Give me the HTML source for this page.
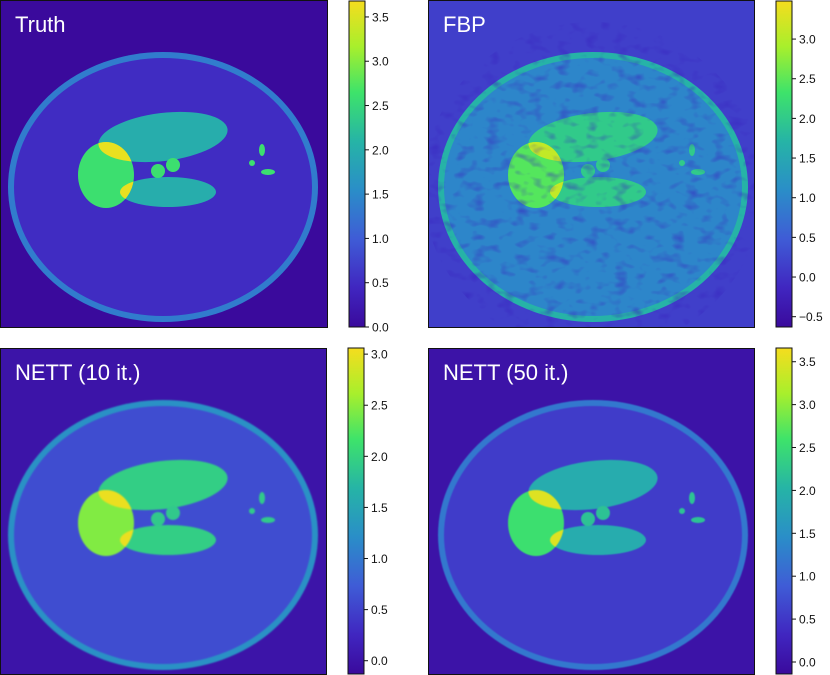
<!DOCTYPE html>
<html><head><meta charset="utf-8">
<style>
html,body{margin:0;padding:0;background:#fff;}
body{width:830px;height:675px;overflow:hidden;position:relative;font-family:"Liberation Sans",sans-serif;}
svg{position:absolute;left:0;top:0;}
</style></head>
<body>
<svg id="fig" width="830" height="675" viewBox="0 0 830 675">
<defs>
<linearGradient id="cmap" x1="0" y1="1" x2="0" y2="0"></linearGradient>
<filter id="noise" x="0" y="0" width="100%" height="100%" color-interpolation-filters="sRGB">
<feTurbulence type="fractalNoise" baseFrequency="0.07 0.11" numOctaves="2" seed="4" result="t"/>
<feColorMatrix in="t" type="matrix" values="0 0 0 0 0.22  0 0 0 0 0.14  0 0 0 0 0.75  0 0 0 1.4 -0.72" result="n"/>
<feComposite in="n" in2="SourceGraphic" operator="atop"/>
</filter>
<filter id="blur1" color-interpolation-filters="sRGB"><feGaussianBlur stdDeviation="0.9"/></filter>
<filter id="blur2" color-interpolation-filters="sRGB"><feGaussianBlur stdDeviation="0.6"/></filter>
<clipPath id="fbpdisk"><ellipse cx="593" cy="187" rx="170" ry="165"/></clipPath>
</defs>
</svg>
<script>
// colormap stops (position, color)
const cmapPos = [0, 0.12, 0.27, 0.42, 0.57, 0.72, 0.86, 1];
const cmapCol = ['#3a0a9c','#4026c0','#3f5cd6','#2a8ec8','#26b4a6','#3ee36a','#a8ef2c','#f5dd1e'];
// panels
const panelNames = ['Truth','FBP','NETT (10 it.)','NETT (50 it.)'];
const panelMin = [0, -0.63, -0.13, -0.14];
const panelMax = [3.68, 3.48, 3.06, 3.66];
const panelTicks = [
  [0,0.5,1,1.5,2,2.5,3,3.5],
  [-0.5,0,0.5,1,1.5,2,2.5,3],
  [0,0.5,1,1.5,2,2.5,3],
  [0,0.5,1,1.5,2,2.5,3,3.5]];
// region values per panel
const bgVal = [0, 0.15, 0, 0];
const ringVal = [1.35, 1.7, 1.25, 1.2];
const interiorVal = [0.5, 1.0, 0.6, 0.55];
const ellVal = [2.0, 2.0, 1.95, 1.9];
const leftVal = [2.6, 2.45, 2.45, 2.55];
const overlapVal = [3.6, 3.1, 3.0, 3.5];
const dotVal = [2.6, 2.0, 1.9, 2.2];

const NS='http://www.w3.org/2000/svg';
const svg=document.getElementById('fig');
function mk(tag,attrs,parent){const e=document.createElementNS(NS,tag);for(const k in attrs)e.setAttribute(k,attrs[k]);(parent||svg).appendChild(e);return e;}
function hex2(c){return [1,3,5].map(i=>parseInt(c.substr(i,2),16));}
function cmap(t){t=Math.max(0,Math.min(1,t));for(let i=1;i<cmapPos.length;i++){if(t<=cmapPos[i]){const f=(t-cmapPos[i-1])/(cmapPos[i]-cmapPos[i-1]);const a=hex2(cmapCol[i-1]),b=hex2(cmapCol[i]);return 'rgb('+a.map((v,j)=>Math.round(v+(b[j]-v)*f)).join(',')+')';}}return cmapCol[cmapCol.length-1];}
const grad=document.getElementById('cmap');
cmapPos.forEach((p,i)=>{const s=document.createElementNS(NS,'stop');s.setAttribute('offset',p);s.setAttribute('stop-color',cmapCol[i]);grad.appendChild(s);});

const boxes=[{x:0,y:0,w:328,h:328,cx:349,dx:0},{x:428,y:0,w:327,h:328,cx:776,dx:430},{x:0,y:348,w:327,h:327,cx:348,dx:0},{x:428,y:348,w:327,h:327,cx:776,dx:430}];
boxes.forEach((b,p)=>{
  const col=v=>cmap((v-panelMin[p])/(panelMax[p]-panelMin[p]));
  const g=mk('g',{});
  
  
  const cid='clip'+p;
  const cp=mk('clipPath',{id:cid},g);mk('rect',{x:b.x,y:b.y,width:b.w,height:b.h},cp);
  const img=mk('g',{'clip-path':'url(#'+cid+')'},g);
  mk('rect',{x:b.x,y:b.y,width:b.w,height:b.h,fill:col(bgVal[p])},img);
  let inner=mk('g',{},img);
  if(p===1){inner.setAttribute('clip-path','url(#fbpdisk)');inner=mk('g',{filter:'url(#noise)'},inner);}
  else if(p===2)inner.setAttribute('filter','url(#blur1)');
  else if(p===3)inner.setAttribute('filter','url(#blur2)');
  const ox=b.dx, oy=b.y;
  mk('rect',{x:b.x-5,y:b.y-5,width:b.w+10,height:b.h+10,fill:col(bgVal[p])},inner);
  const ring=mk('ellipse',{cx:163+ox,cy:187+oy,rx:155,ry:135,fill:col(ringVal[p])},inner);
  
  mk('ellipse',{cx:163+ox,cy:187+oy,rx:149,ry:129,fill:col(interiorVal[p])},inner);
  mk('ellipse',{cx:163+ox,cy:137+oy,rx:65,ry:24,transform:'rotate(-7 '+(163+ox)+' '+(137+oy)+')',fill:col(ellVal[p])},inner);
  mk('ellipse',{cx:168+ox,cy:192+oy,rx:48,ry:15,fill:col(ellVal[p])},inner);
  const lid='left'+p;
  const lc=mk('clipPath',{id:lid},g);mk('ellipse',{cx:106+ox,cy:175+oy,rx:28,ry:33},lc);
  mk('ellipse',{cx:106+ox,cy:175+oy,rx:28,ry:33,fill:col(leftVal[p])},inner);
  const ov=mk('g',{'clip-path':'url(#'+lid+')'},inner);
  mk('ellipse',{cx:163+ox,cy:137+oy,rx:65,ry:24,transform:'rotate(-7 '+(163+ox)+' '+(137+oy)+')',fill:col(overlapVal[p])},ov);
  mk('ellipse',{cx:168+ox,cy:192+oy,rx:48,ry:15,fill:col(overlapVal[p])},ov);
  mk('circle',{cx:158+ox,cy:171+oy,r:7,fill:col(dotVal[p])},inner);
  mk('circle',{cx:173+ox,cy:165+oy,r:7,fill:col(dotVal[p])},inner);
  mk('ellipse',{cx:262+ox,cy:150+oy,rx:3,ry:6,fill:col(dotVal[p])},inner);
  mk('circle',{cx:252+ox,cy:163+oy,r:3,fill:col(dotVal[p])},inner);
  mk('ellipse',{cx:268+ox,cy:172+oy,rx:7,ry:3,fill:col(dotVal[p])},inner);
  mk('rect',{x:b.x+0.5,y:b.y+0.5,width:b.w-1,height:b.h-1,fill:'none',stroke:'#111','stroke-width':1},g);
  const t=mk('text',{x:b.x+15,y:b.y+32,fill:'#fff','font-size':22},g);
  t.textContent=panelNames[p];
  
  
  // colorbar
  const cb=mk('g',{},svg);
  
  
  const top=b.y+(p<2?1:0), bot=b.y+b.h-1;
  mk('rect',{x:b.cx,y:top,width:16,height:bot-top,fill:'url(#cmap)',stroke:'#111','stroke-width':1},cb);
  const yOf=v=>bot-(v-panelMin[p])/(panelMax[p]-panelMin[p])*(bot-top);
  panelTicks[p].forEach(v=>{
    const y=yOf(v);
    mk('line',{x1:b.cx+16,x2:b.cx+20,y1:y,y2:y,stroke:'#111','stroke-width':1},cb);
    const tx=mk('text',{x:b.cx+23,y:y+4.5,'font-size':12,fill:'#111'},cb);
    tx.textContent=(v<0?'\u2212':'')+Math.abs(v).toFixed(1);
    
    
  });
});
</script>
</body></html>
